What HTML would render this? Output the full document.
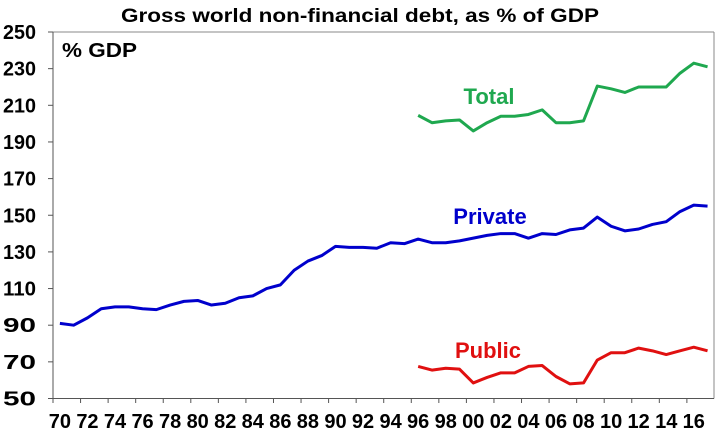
<!DOCTYPE html><html><head><style>body{margin:0;background:#fff}svg{display:block;font-family:"Liberation Sans",Arial,sans-serif;font-weight:bold}</style></head><body>
<svg id="s" width="720" height="437" xmlns="http://www.w3.org/2000/svg">
<text x="360" y="22" font-size="19.5" text-anchor="middle" textLength="478" lengthAdjust="spacingAndGlyphs">Gross world non-financial debt, as % of GDP</text>
<text x="62" y="57" font-size="20" textLength="75" lengthAdjust="spacingAndGlyphs">% GDP</text>
<line x1="53" y1="32" x2="714" y2="32" stroke="#888"/>
<line x1="714" y1="32" x2="714" y2="398.5" stroke="#888"/>
<line x1="53" y1="32" x2="53" y2="398.5" stroke="#555"/>
<line x1="53" y1="398.5" x2="714" y2="398.5" stroke="#555"/>
<g id="ax" font-size="20"></g>
<text x="489" y="104" font-size="22" fill="#1fa84f" text-anchor="middle">Total</text>
<text x="490" y="224" font-size="22" fill="#0000cc" text-anchor="middle">Private</text>
<text x="488" y="358" font-size="22" fill="#e01010" text-anchor="middle">Public</text>
</svg>
<script>
const s=document.getElementById('s'),ax=document.getElementById('ax'),N='http://www.w3.org/2000/svg';
const X=y=>53+(y-1970+0.5)*13.78,Y=v=>398.5+(50-v)*1.8325;
let h='';
for(let v=50;v<=250;v+=20){h+=`<line x1="48" x2="53" y1="${Y(v)}" y2="${Y(v)}" stroke="#555"/><text x="36" y="${Y(v)+7}" text-anchor="end" textLength="33" lengthAdjust="spacingAndGlyphs">${v}</text>`;}
for(let i=0;i<=23;i++){const x=53+i*2*13.78;h+=`<line x1="${x}" x2="${x}" y1="398.5" y2="403" stroke="#555"/>`;const yr=(1970+i*2)%100;h+=`<text x="${X(1970+i*2)}" y="428" text-anchor="middle">${String(yr).padStart(2,'0')}</text>`;}
ax.innerHTML=h;
const P=[91,90,94,99,100,100,99,98.5,101,103,103.5,101,102,105,106,110,112,120,125,128,133,132.5,132.5,132,135,134.5,137,135,135,136,137.5,139,140,140,137.5,140,139.5,142,143,149,144,141.5,142.5,145,146.5,152,155.5,155];
const T=[204.5,200.5,201.5,202,196,200.5,204,204,205,207.5,200.5,200.5,201.5,220.5,219,217,220,220,220,227.5,233,231];
const U=[67.5,65.5,66.5,66,58.5,61.5,64,64,67.5,68,62,58,58.5,71,75,75,77.5,76,74,76,78,76];
function L(d,st,c){const p=document.createElementNS(N,'polyline');p.setAttribute('points',d.map((v,i)=>X(st+i)+','+Y(v)).join(' '));p.setAttribute('fill','none');p.setAttribute('stroke',c);p.setAttribute('stroke-width','3');p.setAttribute('stroke-linejoin','round');s.appendChild(p);}
L(P,1970,'#0000cc');L(T,1996,'#1fa84f');L(U,1996,'#e01010');
</script></body></html>
